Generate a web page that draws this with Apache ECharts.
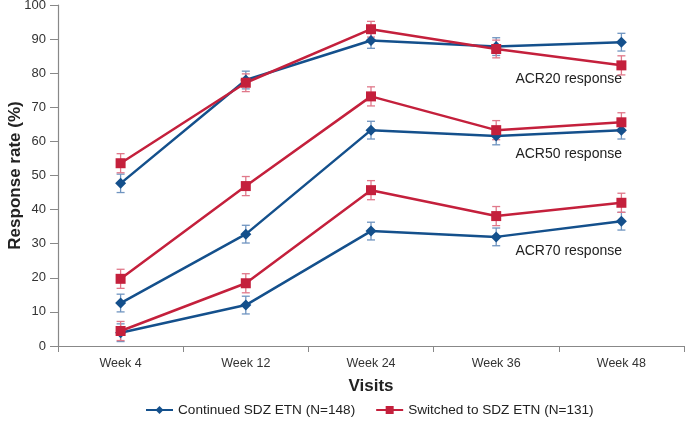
<!DOCTYPE html>
<html><head><meta charset="utf-8">
<script src="https://cdn.jsdelivr.net/npm/echarts@6/dist/echarts.min.js"></script>
<style>html,body{margin:0;padding:0;background:#fff}#c{width:685px;height:423px}</style>
</head><body><div id="c"></div>
<script>
var categories = ['Week 4','Week 12','Week 24','Week 36','Week 48'];
var yTicks = [0,10,20,30,40,50,60,70,80,90,100];
var contACR20 = [47.7, 78.0, 89.6, 87.8, 89.1];
var contACR50 = [12.6, 32.8, 63.3, 61.6, 63.3];
var contACR70 = [3.9, 12.0, 33.7, 32.0, 36.6];
var swACR20 = [53.6, 77.2, 92.9, 87.1, 82.3];
var swACR50 = [19.7, 46.9, 73.2, 63.3, 65.6];
var swACR70 = [4.4, 18.4, 45.7, 38.1, 42.0];
var contErr20 = [2.7, 2.6, 2.3, 2.6, 2.6];
var contErr50 = [2.6, 2.6, 2.6, 2.6, 2.6];
var contErr70 = [2.6, 2.6, 2.6, 2.6, 2.6];
var swErr20 = [2.8, 2.6, 2.3, 2.6, 2.8];
var swErr50 = [2.8, 2.8, 2.8, 2.8, 2.8];
var swErr70 = [2.8, 2.8, 2.8, 2.8, 2.8];
var nameCont = 'Continued SDZ ETN (N=148)';
var nameSw = 'Switched to SDZ ETN (N=131)';
var blue = '#14508c', red = '#c4203c';
var blueErr = '#6f94c0', redErr = '#e0788a';
var FONT = 'Liberation Sans, Arial, sans-serif';

function errData(vals, errs){
  return vals.map(function(v,i){ return [i, v-errs[i], v+errs[i]]; });
}
function errSeries(vals, errs, color){
  return {
    type:'custom', name: 'err', z: 1,
    data: errData(vals, errs),
    renderItem: function(params, api){
      var x = api.value(0);
      var lo = api.coord([x, api.value(1)]);
      var hi = api.coord([x, api.value(2)]);
      var w = 4;
      var st = {stroke: color, lineWidth: 1.3};
      return {type:'group', children:[
        {type:'line', shape:{x1:lo[0],y1:lo[1],x2:hi[0],y2:hi[1]}, style:st},
        {type:'line', shape:{x1:lo[0]-w,y1:lo[1],x2:lo[0]+w,y2:lo[1]}, style:st},
        {type:'line', shape:{x1:hi[0]-w,y1:hi[1],x2:hi[0]+w,y2:hi[1]}, style:st}
      ]};
    }
  };
}
function lineSeries(name, vals, color, symbol, size){
  return {
    type:'line', name:name, data: vals, z: 3,
    symbol: symbol, symbolSize: size, showSymbol: true,
    itemStyle:{color: color},
    lineStyle:{color: color, width: 2.5},
    emphasis:{disabled:true}, animation:false
  };
}
var chart = echarts.init(document.getElementById('c'), null, {renderer:'canvas'});
chart.setOption({
  animation:false,
  grid:{left:58, right:1, top:5, bottom:77, containLabel:false, outerBoundsMode:'none'},
  legend:{
    data:[nameCont, nameSw], top:398, left:140,
    itemWidth:27, itemHeight:10, itemGap:20,
    textStyle:{fontFamily:FONT, fontSize:13.6, color:'#222'}
  },
  xAxis:{
    type:'category', data: categories, boundaryGap:true,
    name:'Visits', nameLocation:'middle', nameGap:32, nameMoveOverlap:false,
    nameTextStyle:{fontFamily:FONT, fontSize:17, fontWeight:'bold', color:'#222'},
    axisLine:{lineStyle:{color:'#888', width:1.2}},
    axisTick:{show:true, length:6, lineStyle:{color:'#888'}},
    axisLabel:{fontFamily:FONT, fontSize:12.5, color:'#333', margin:11}
  },
  yAxis:{
    type:'value', min:0, max:100, interval:10,
    name:'Response rate (%)', nameLocation:'middle', nameGap:34, nameMoveOverlap:false,
    nameTextStyle:{fontFamily:FONT, fontSize:17, fontWeight:'bold', color:'#222'},
    axisLine:{show:true, lineStyle:{color:'#888', width:1.2}},
    axisTick:{show:true, length:8, lineStyle:{color:'#888'}},
    splitLine:{show:false},
    axisLabel:{fontFamily:FONT, fontSize:13, color:'#333', margin:12,
      formatter:function(v){ return yTicks.indexOf(v)>=0 ? String(v) : ''; }}
  },
  graphic:[
    {type:'text', right:63, top:72, style:{text:'ACR20 response', font:'14px ' + FONT, fill:'#222'}},
    {type:'text', right:63, top:147, style:{text:'ACR50 response', font:'14px ' + FONT, fill:'#222'}},
    {type:'text', right:63, top:244, style:{text:'ACR70 response', font:'14px ' + FONT, fill:'#222'}}
  ],
  series:[
    errSeries(contACR20, contErr20, blueErr),
    errSeries(contACR50, contErr50, blueErr),
    errSeries(contACR70, contErr70, blueErr),
    errSeries(swACR20, swErr20, redErr),
    errSeries(swACR50, swErr50, redErr),
    errSeries(swACR70, swErr70, redErr),
    lineSeries(nameCont, contACR20, blue, 'diamond', 11),
    lineSeries(nameCont, contACR50, blue, 'diamond', 11),
    lineSeries(nameCont, contACR70, blue, 'diamond', 11),
    lineSeries(nameSw, swACR20, red, 'rect', 10),
    lineSeries(nameSw, swACR50, red, 'rect', 10),
    lineSeries(nameSw, swACR70, red, 'rect', 10)
  ]
});
</script></body></html>
